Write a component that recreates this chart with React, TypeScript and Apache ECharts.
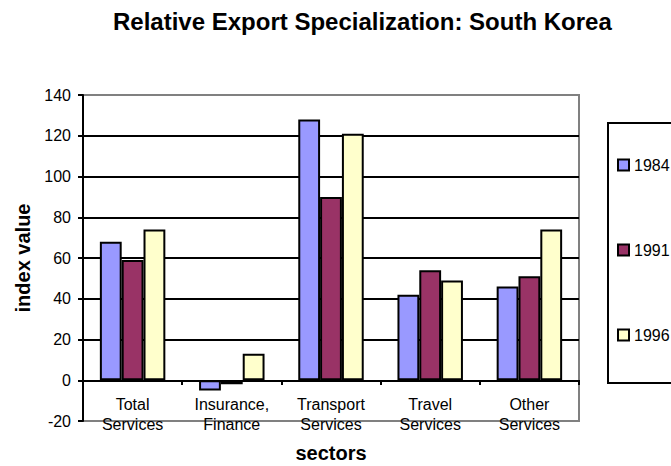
import React, { useEffect, useRef } from "react";
import * as echarts from "echarts";

const categories = ["Total\nServices", "Insurance,\nFinance", "Transport\nServices", "Travel\nServices", "Other\nServices"];
const years = ["1984", "1991", "1996"];
const values1984 = [68, -5, 128, 42, 46];
const values1991 = [59, -2, 90, 54, 51];
const values1996 = [74, 13, 121, 49, 74];
const yTicks = { min: -20, max: 140, interval: 20 };
const colors = ["#9999FF", "#993366", "#FFFFCC"];

const FONT = "'Liberation Sans', Arial, sans-serif";

export default function App() {
  const ref = useRef<HTMLDivElement>(null);
  useEffect(() => {
    if (!ref.current) return;
    const chart = echarts.init(ref.current, undefined, { renderer: "svg" });
    const seriesData = [values1984, values1991, values1996];
    chart.setOption({
      animation: false,
      backgroundColor: "#ffffff",
      textStyle: { fontFamily: FONT },
      title: {
        text: "Relative Export Specialization: South Korea",
        left: 113,
        top: 9,
        padding: 0,
        textStyle: { fontFamily: FONT, fontSize: 24, fontWeight: "bold", color: "#000" },
      },
      legend: {
        orient: "vertical",
        left: 617,
        top: 157,
        padding: 0,
        itemWidth: 11,
        itemHeight: 11,
        itemGap: 69,
        icon: "rect",
        data: years,
        textStyle: { fontFamily: FONT, fontSize: 16, color: "#000", lineHeight: 16 },
      },
      graphic: [
        {
          type: "rect",
          shape: { x: 608, y: 123, width: 120, height: 260 },
          style: { fill: "none", stroke: "#000", lineWidth: 2 },
          z: -1,
        },
      ],
      grid: {
        left: 83,
        right: 92,
        top: 95,
        bottom: 45,
        outerBoundsMode: "none",
        containLabel: false,
        show: true,
        borderColor: "#808080",
        borderWidth: 2,
        backgroundColor: "transparent",
      },
      xAxis: [
        {
          type: "category",
          data: categories,
          name: "sectors",
          nameLocation: "middle",
          nameGap: 22,
          nameTextStyle: { fontFamily: FONT, fontSize: 20, fontWeight: "bold", color: "#000" },
          axisLine: { onZero: true, lineStyle: { color: "#000", width: 2 } },
          axisTick: { show: false },
          axisLabel: { fontFamily: FONT, fontSize: 16, color: "#000", margin: -27, lineHeight: 20, interval: 0 },
          splitLine: { show: false },
        },
        {
          type: "category",
          data: categories,
          position: "bottom",
          offset: -41,
          axisLine: { show: false, onZero: false },
          axisTick: { show: true, length: 5, lineStyle: { color: "#000", width: 2 } },
          axisLabel: { show: false },
          splitLine: { show: false },
        },
      ],
      yAxis: {
        type: "value",
        min: yTicks.min,
        max: yTicks.max,
        interval: yTicks.interval,
        name: "index value",
        nameLocation: "middle",
        nameGap: 50,
        nameTextStyle: { fontFamily: FONT, fontSize: 20, fontWeight: "bold", color: "#000" },
        axisLine: { show: true, lineStyle: { color: "#000", width: 2 } },
        axisTick: { show: true, length: 5, lineStyle: { color: "#000", width: 2 } },
        axisLabel: { fontFamily: FONT, fontSize: 16, color: "#000", margin: 12 },
        splitLine: {
          show: true,
          lineStyle: {
            color: ["#808080", "#000", "#000", "#000", "#000", "#000", "#000", "#000", "#808080"],
            width: 2,
          },
        },
      },
      series: years.map((y, i) => ({
        name: y,
        type: "bar",
        data: seriesData[i],
        xAxisIndex: 0,
        barGap: "0%",
        barCategoryGap: "34%",
        itemStyle: { color: colors[i], borderColor: "#000", borderWidth: 2 },
      })),
    });
    return () => chart.dispose();
  }, []);
  return (
    <div
      ref={ref}
      style={{ position: "fixed", left: 0, top: 0, width: 671, height: 466 }}
    />
  );
}
